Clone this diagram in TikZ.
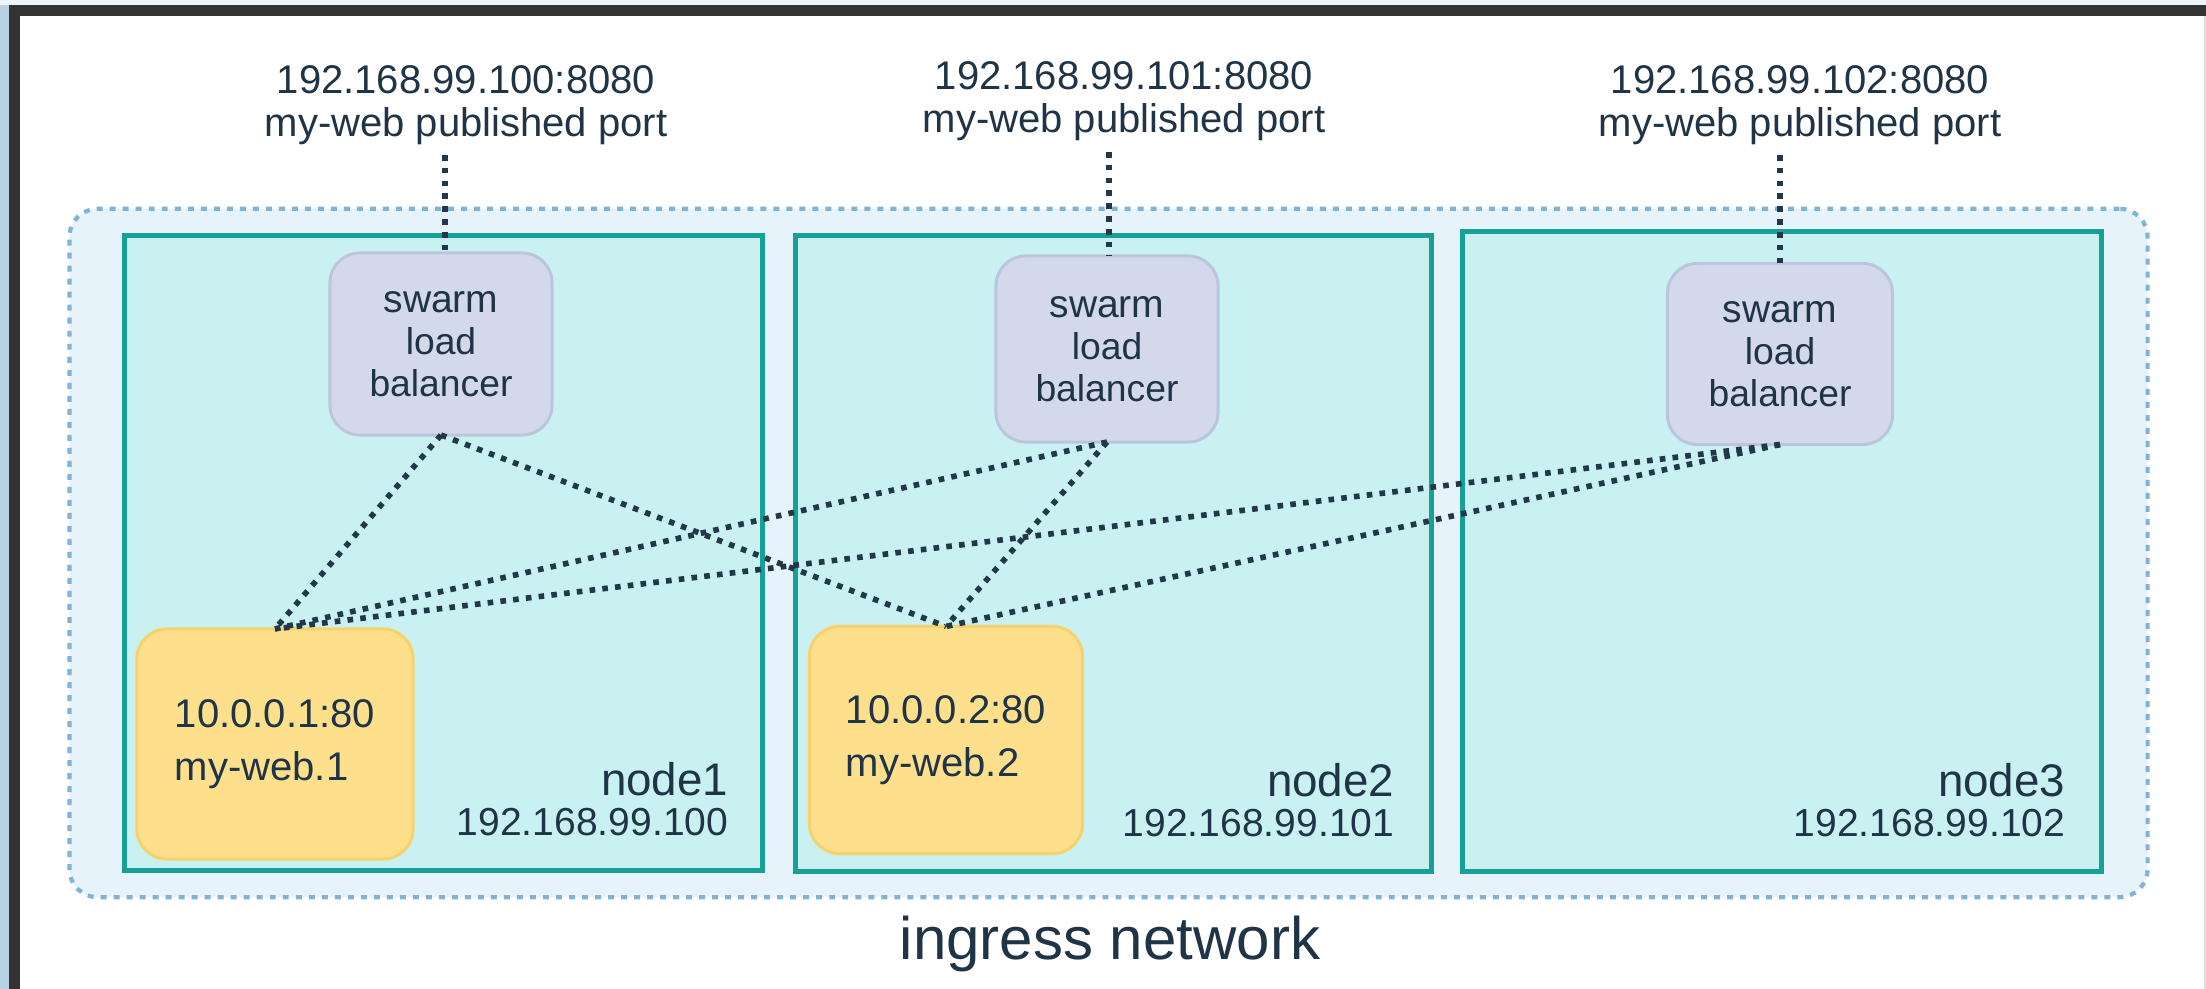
\documentclass[tikz,border=0pt]{standalone}
\usepackage{fontspec}
\setmainfont{Liberation Sans}
\usetikzlibrary{calc}
\definecolor{txt}{HTML}{1F3447}
\definecolor{bgside}{HTML}{B7D2E5}
\definecolor{bgtop}{HTML}{EDF3F7}
\definecolor{frame}{HTML}{333333}
\definecolor{ingf}{HTML}{E6F3FA}
\definecolor{ingb}{HTML}{82B2D6}
\definecolor{tealb}{HTML}{16A096}
\definecolor{tealf}{HTML}{C9F1F1}
\definecolor{lbf}{HTML}{D3D9EA}
\definecolor{lbb}{HTML}{BCC5DE}
\definecolor{webf}{HTML}{FDDF8C}
\definecolor{webb}{HTML}{F8D16A}
\definecolor{connc}{HTML}{22384A}
\begin{document}
\begin{tikzpicture}[x=0.01cm,y=-0.01cm,
  every node/.style={text=txt, inner sep=0pt, outer sep=0pt},
  ingressbox/.style={draw=ingb, fill=ingf, line width=1.2pt,
    dash pattern=on 1.7pt off 2.0pt, rounded corners=8pt},
  hostbox/.style={draw=tealb, fill=tealf, line width=1.42pt},
  lbbox/.style={draw=lbb, fill=lbf, line width=0.85pt, rounded corners=8.5pt,
    align=center, font=\fontsize{10.6pt}{11.95pt}\selectfont},
  webbox/.style={draw=webb, fill=webf, line width=0.85pt, rounded corners=8.5pt,
    align=left, font=\fontsize{11.38pt}{15.1pt}\selectfont},
  conn/.style={draw=connc, line width=1.6pt, dash pattern=on 1.6pt off 2.05pt},
  publabel/.style={align=center, font=\fontsize{11.38pt}{12.23pt}\selectfont},
  hostlabel/.style={align=right, anchor=south east, font=\fontsize{11.1pt}{11.4pt}\selectfont},
  inglabel/.style={anchor=base, font=\fontsize{17.07pt}{20pt}\selectfont}
]
\useasboundingbox (0,0) rectangle (2206,989);
% screenshot frame
\fill[bgtop] (0,0) rectangle (2206,989);
\fill[bgside] (0,5) rectangle (9,989);
\fill[frame] (9,5) rectangle (2206,989);
\fill[white] (20,16) rectangle (2204,989);
\fill[gray!25] (2204,16) rectangle (2206,989);

% ingress network
\node[ingressbox, minimum width=20.77cm, minimum height=6.88cm] (ingress) at (1108.5,553) {};
\node[inglabel] (inglbl) at (1110,960) {ingress network};

% hosts
\node[hostbox, minimum width=6.37cm, minimum height=6.34cm] (n1) at (443.5,553) {};
\node[hostbox, minimum width=6.35cm, minimum height=6.35cm] (n2) at (1113.5,553.5) {};
\node[hostbox, minimum width=6.38cm, minimum height=6.39cm] (n3) at (1782,551.5) {};

\node[hostlabel] (n1lbl) at ($(n1.south east)+(-34,-34)$) {{\fontsize{13pt}{11.4pt}\selectfont node1}\\192.168.99.100};
\node[hostlabel] (n2lbl) at ($(n2.south east)+(-37,-34)$) {{\fontsize{13pt}{11.4pt}\selectfont node2}\\192.168.99.101};
\node[hostlabel] (n3lbl) at ($(n3.south east)+(-36,-34)$) {{\fontsize{13pt}{11.4pt}\selectfont node3}\\192.168.99.102};

% load balancers
\node[lbbox, minimum width=2.22cm, minimum height=1.82cm] (lb1) at (441,344)
  {{\fontsize{11.1pt}{11.95pt}\selectfont swarm}\\load\\balancer};
\node[lbbox, minimum width=2.22cm, minimum height=1.86cm] (lb2) at (1107,349)
  {{\fontsize{11.1pt}{11.95pt}\selectfont swarm}\\load\\balancer};
\node[lbbox, minimum width=2.25cm, minimum height=1.81cm] (lb3) at (1780,354)
  {{\fontsize{11.1pt}{11.95pt}\selectfont swarm}\\load\\balancer};

% containers
\node[webbox, minimum width=2.76cm, minimum height=2.30cm] (web1) at (275,744)
  {10.0.0.1:80\\my-web.1};
\node[webbox, minimum width=2.73cm, minimum height=2.27cm] (web2) at (946,740)
  {10.0.0.2:80\\my-web.2};

% published port labels
\node[publabel, anchor=south] (pub1) at (466,145) {192.168.99.100:8080\\my-web published port};
\node[publabel, anchor=south] (pub2) at (1124,141) {192.168.99.101:8080\\my-web published port};
\node[publabel, anchor=south] (pub3) at (1800,145) {192.168.99.102:8080\\my-web published port};

\coordinate (t1) at (445,155);
\coordinate (t2) at (1109,152);
\coordinate (t3) at (1780,155);

% connectors
\draw[conn] (t1) -- (t1 |- lb1.north);
\draw[conn] (t2) -- (t2 |- lb2.north);
\draw[conn] (t3) -- (t3 |- lb3.north);

\draw[conn] (lb1.south) -- (web1.north);
\draw[conn] (lb1.south) -- (web2.north);
\draw[conn] (lb2.south) -- (web1.north);
\draw[conn] (lb2.south) -- (web2.north);
\draw[conn] (lb3.south) -- (web1.north);
\draw[conn] (lb3.south) -- (web2.north);
\end{tikzpicture}
\end{document}
